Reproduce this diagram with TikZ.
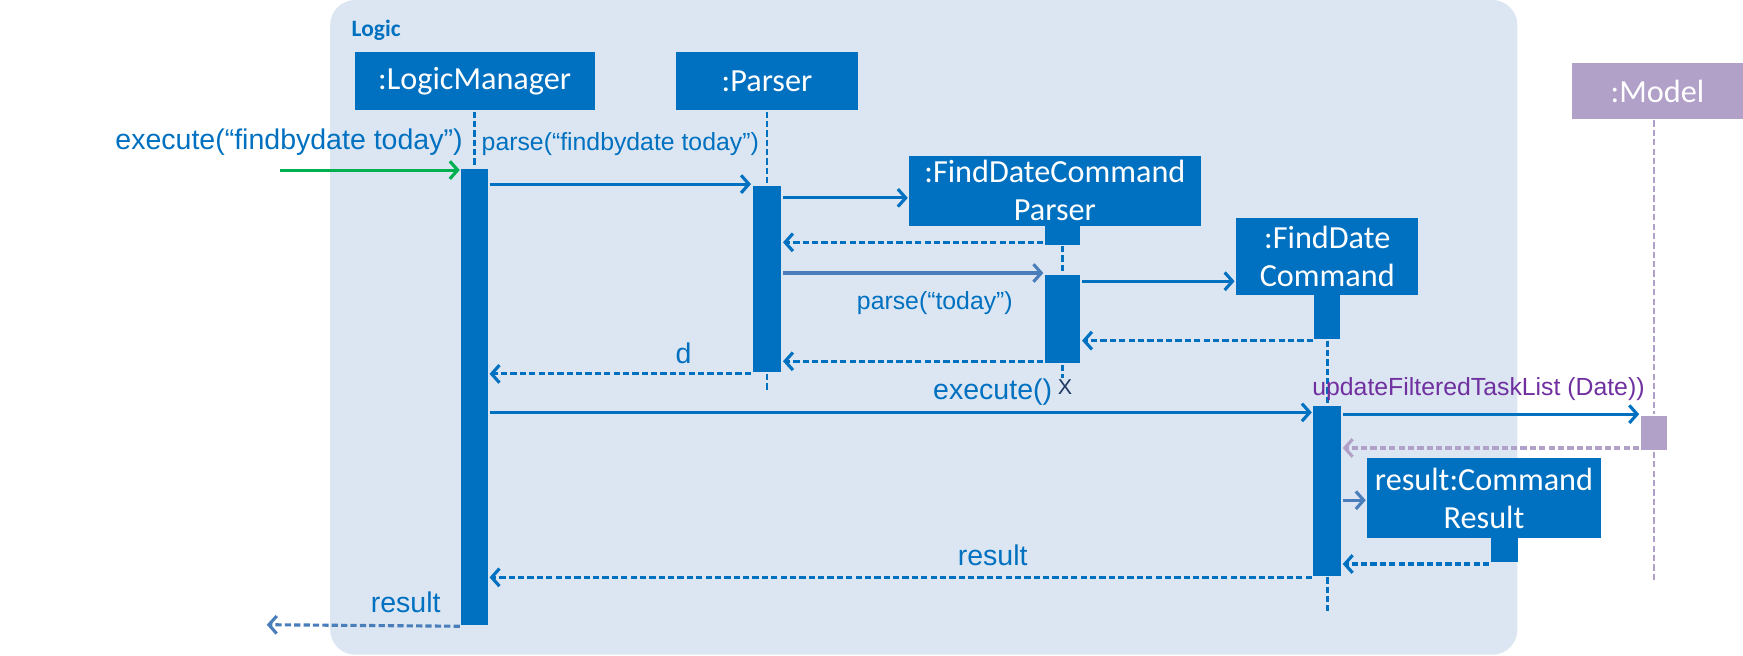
\documentclass[tikz,border=0pt]{standalone}
\usepackage{fontspec}
\setmainfont{Liberation Sans}
\newfontfamily\calibri{Carlito}
\usepackage{tikz}
\usetikzlibrary{positioning}
\usetikzlibrary{arrows.meta}
\definecolor{logic_blue}{HTML}{0070C0}
\definecolor{soft_blue}{HTML}{4A7EBB}
\definecolor{frame_blue}{HTML}{DCE6F2}
\definecolor{model_purple}{HTML}{B1A0C7}
\definecolor{text_purple}{HTML}{7030A0}
\definecolor{found_green}{HTML}{00B050}
\definecolor{end_navy}{HTML}{1F3864}
\tikzset{my_sequence/.style={x=0.02cm,y=-0.02cm,>={Straight Barb[length=4pt,width=9pt]},line width=1.6pt}}
\tikzset{my_object/.style={fill=logic_blue, text=white, inner sep=0pt, align=center, font=\calibri\fontsize{16.5}{19.5}\selectfont}}
\tikzset{my_activation/.style={fill=logic_blue, inner sep=0pt, minimum width=0.48cm}}
\tikzset{my_lifeline/.style={draw=logic_blue, line width=1.4pt, dash pattern=on 3.2pt off 1.6pt}}
\tikzset{my_call/.style={->, draw=logic_blue}}
\tikzset{my_reply/.style={->, draw=logic_blue, dash pattern=on 3.2pt off 1.6pt}}
\tikzset{my_label/.style={text=logic_blue, inner sep=0pt, font=\fontsize{14.6}{17}\selectfont}}
\tikzset{my_small_label/.style={my_label, font=\fontsize{12.7}{15}\selectfont}}

\begin{document}
\begin{tikzpicture}[my_sequence]
    \useasboundingbox (0,0) rectangle (1568,590);
    % Logic frame
    \fill[frame_blue, rounded corners=0.45cm] (297,0) rectangle (1365,589);
    \node[anchor=west, inner sep=0pt, text=logic_blue, font=\calibri\bfseries\fontsize{12}{14}\selectfont] (logic) at (315,27) {Logic};

    % objects
    \node[my_object, minimum width=4.32cm, minimum height=1.04cm] (lm) at (427,73) {:LogicManager};
    \node[my_object, minimum width=3.28cm, minimum height=1.04cm] (parser) at (690,73) {:Parser};
    \node[my_object, minimum width=5.24cm, minimum height=1.26cm] (fdcp) at (949,171.5) {:FindDateCommand\\Parser};
    \node[my_object, minimum width=3.28cm, minimum height=1.38cm] (fdc) at (1194,230.5) {:FindDate\\Command};
    \node[my_object, fill=model_purple, minimum width=3.08cm, minimum height=1.0cm] (model) at (1491,82) {:Model};
    \node[my_object, minimum width=4.2cm, minimum height=1.44cm] (res) at (1335,448) {result:Command\\Result};

    % activations
    \node[my_activation, minimum height=8.2cm] (lmAct) at (427,357) {};
    \node[my_activation, minimum width=0.52cm, minimum height=3.36cm] (parserAct) at (690,251) {};
    \node[my_activation, minimum width=0.64cm, minimum height=0.34cm] (fdcpStub) at (956,211.5) {};
    \node[my_activation, minimum width=0.64cm, minimum height=1.6cm] (fdcpAct) at (956,287) {};
    \node[my_activation, minimum width=0.46cm, minimum height=0.8cm] (fdcStub) at (1194,285) {};
    \node[my_activation, minimum width=0.5cm, minimum height=3.06cm] (fdcAct) at (1194,441.5) {};
    \node[my_activation, fill=model_purple, minimum height=0.62cm] (modelAct) at (1488,389.5) {};
    \node[my_activation, minimum width=0.5cm, minimum height=0.44cm] (resStub) at (1353.5,495) {};

    % lifelines
    \coordinate (parserEnd) at (690,352);
    \coordinate (fdcEnd) at (1194,550);
    \coordinate (modelEnd) at (1488,522);
    \node[inner sep=0pt, text=end_navy, font=\fontsize{11}{13}\selectfont] (fdcpEnd) at (958,348) {X};
    \draw[my_lifeline] (lm) -- (lmAct);
    \draw[my_lifeline] (parser) -- (parserAct);
    \draw[my_lifeline] (parserAct) -- (parserEnd);
    \draw[my_lifeline] (fdcpStub) -- (fdcpAct);
    \draw[my_lifeline] (fdcpAct.south) -- (fdcpEnd.north -| fdcpAct);
    \draw[my_lifeline] (fdcStub) -- (fdcAct);
    \draw[my_lifeline] (fdcAct) -- (fdcEnd);
    \draw[my_lifeline, draw=model_purple] (model.south -| modelAct) -- (modelAct);
    \draw[my_lifeline, draw=model_purple] (modelAct) -- (modelEnd);

    % messages
    \coordinate (foundStart) at (252,153);
    \coordinate (resultEnd) at (240,562);
    \draw[my_call, draw=found_green] (foundStart) -- (foundStart -| lmAct.west);
    \node[my_label] (l1) at (260,128) {execute(“findbydate today”)};
    \draw[my_call] (lmAct.east |- parserAct.north) -- (parserAct.north west);
    \node[my_small_label] (l2) at (558,130) {parse(“findbydate today”)};
    \draw[my_call] (parserAct.east |- 0,178) -- (fdcp.west |- 0,178);
    \draw[my_reply] (fdcpStub.west |- 0,218) -- (parserAct.east |- 0,218);
    \draw[my_call, draw=soft_blue] (parserAct.east |- fdcpAct.north) -- (fdcpAct.north west);
    \node[my_small_label] (l3) at (841,273) {parse(“today”)};
    \draw[my_call] (fdcpAct.east |- 0,253) -- (fdc.west |- 0,253);
    \draw[my_reply] (fdcStub.south west) -- (fdcpAct.east |- fdcStub.south);
    \draw[my_reply] (fdcpAct.west |- 0,325) -- (parserAct.east |- 0,325);
    \draw[my_reply] (parserAct.south west) -- (lmAct.east |- parserAct.south);
    \node[my_label] (l4) at (615,318) {d};
    \draw[my_call] (lmAct.east |- 0,371) -- (fdcAct.west |- 0,371);
    \node[my_label] (l5) at (893,353) {execute()};
    \draw[my_call] (fdcAct.east |- modelAct.north) -- (modelAct.north west);
    \node[my_small_label, text=text_purple] (l6) at (1330,350) {updateFilteredTaskList (Date))};
    \draw[my_reply, draw=model_purple] (modelAct.west |- 0,403) -- (fdcAct.east |- 0,403);
    \draw[my_call, draw=soft_blue] (fdcAct.east |- 0,450) -- (res.west |- 0,450);
    \draw[my_reply] (resStub.south west) -- (fdcAct.east |- resStub.south);
    \draw[my_reply] (fdcAct.south west) -- (lmAct.east |- fdcAct.south);
    \node[my_label] (l7) at (893,500) {result};
    \draw[my_reply, draw=soft_blue] (lmAct.south west) -- (resultEnd);
    \node[my_label] (l8) at (365,542) {result};
\end{tikzpicture}
\end{document}
